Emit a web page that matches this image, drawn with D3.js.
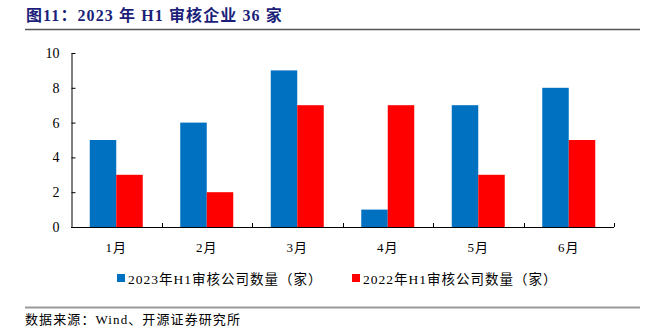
<!DOCTYPE html>
<html><head><meta charset="utf-8">
<script src="https://cdn.jsdelivr.net/npm/d3@7"></script>
<style>
html,body{margin:0;padding:0;background:#fff;}
svg{display:block;}
</style></head>
<body><svg id="c" width="654" height="334"></svg>
<script>
const categories = ["1月","2月","3月","4月","5月","6月"];
const series2023 = [5,6,9,1,7,8];
const series2022 = [3,2,7,7,3,5];
const seriesNames = ["2023年H1审核公司数量（家）","2022年H1审核公司数量（家）"];
const seriesColors = ["#0070C0","#FF0000"];
const yTicks = [0,2,4,6,8,10];
const titleText = "图11：2023 年 H1 审核企业 36 家";
const sourceText = "数据来源：Wind、开源证券研究所";

(function(){
const svg = d3.select("#c");
const serif = "'Liberation Serif','Times New Roman','Noto Sans CJK SC',serif";

// title
svg.append("text").attr("x",26).attr("y",21).attr("font-family",serif)
  .attr("font-size",16).attr("font-weight","bold").attr("letter-spacing",1.1)
  .attr("fill","#1c1f7a").text(titleText);
svg.append("line").attr("x1",25).attr("x2",640).attr("y1",29.5).attr("y2",29.5)
  .attr("stroke","#555").attr("stroke-width",1.5);

// scales
const pL=71, pR=614, pT=53, pB=227;
const x0 = d3.scaleBand().domain(categories).range([pL,pR]).padding(0);
const groupW = 53;
const x1 = d3.scaleBand().domain([0,1]).range([0,groupW]).padding(0);
const y = d3.scaleLinear().domain([0,10]).range([pB,pT]);

const data = categories.map((c,i)=>({c, v:[series2023[i], series2022[i]]}));
const g = svg.append("g");
data.forEach(d=>{
  const off = x0(d.c) + (x0.bandwidth()-groupW)/2;
  d.v.forEach((v,j)=>{
    g.append("rect").attr("x",off+x1(j)).attr("width",x1.bandwidth())
      .attr("y",y(v)).attr("height",y(0)-y(v)).attr("fill",seriesColors[j]);
  });
});

// y axis
const yAxis = svg.append("g").attr("transform",`translate(${pL+0.5},0)`)
  .call(d3.axisLeft(y).tickValues(yTicks).tickSizeInner(-4).tickSizeOuter(0).tickPadding(12));
yAxis.select(".domain").attr("stroke","#000");
yAxis.selectAll(".tick line").attr("stroke","#000");
yAxis.selectAll("text").attr("font-family",serif).attr("font-size",14).attr("fill","#000");

// x axis
const xa = svg.append("g").attr("transform",`translate(0,${pB})`);
xa.append("line").attr("x1",pL).attr("x2",pR).attr("y1",0.5).attr("y2",0.5).attr("stroke","#000");
categories.forEach((c,i)=>{
  const bx = Math.round(x0(c)+x0.bandwidth())+0.5;
  xa.append("line").attr("x1",bx).attr("x2",bx).attr("y1",0).attr("y2",-4).attr("stroke","#000");
  xa.append("text").attr("x",x0(c)+x0.bandwidth()/2).attr("y",25).attr("text-anchor","middle")
    .attr("font-family",serif).attr("font-size",13).attr("letter-spacing",1).attr("fill","#000").text(c);
});

// legend
const legX = [117,352];
seriesNames.forEach((n,j)=>{
  svg.append("rect").attr("x",legX[j]).attr("y",274).attr("width",8).attr("height",8).attr("fill",seriesColors[j]);
  svg.append("text").attr("x",legX[j]+11).attr("y",283.5).attr("font-family",serif)
    .attr("font-size",13.5).attr("letter-spacing",1).attr("fill","#000").text(n);
});

// source
svg.append("line").attr("x1",25).attr("x2",640).attr("y1",307.5).attr("y2",307.5)
  .attr("stroke","#999").attr("stroke-width",2);
svg.append("text").attr("x",25).attr("y",324).attr("font-family",serif)
  .attr("font-size",13).attr("letter-spacing",1.1).attr("fill","#000").text(sourceText);
})();
</script></body></html>
